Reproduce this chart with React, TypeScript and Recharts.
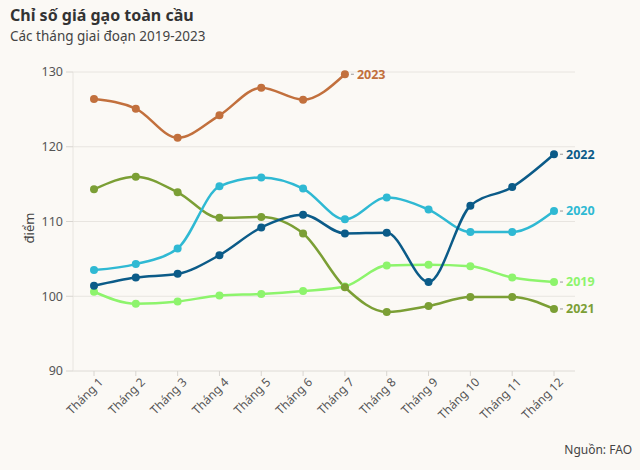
import { LineChart, Line, XAxis, YAxis, CartesianGrid } from "recharts";

// dữ liệu đọc từ biểu đồ FAO
const months = [
  "Tháng 1", "Tháng 2", "Tháng 3", "Tháng 4", "Tháng 5", "Tháng 6",
  "Tháng 7", "Tháng 8", "Tháng 9", "Tháng 10", "Tháng 11", "Tháng 12",
];
const y2019 = [100.6, 99.0, 99.3, 100.1, 100.3, 100.7, 101.3, 104.1, 104.2, 104.0, 102.5, 101.9];
const y2020 = [103.5, 104.3, 106.4, 114.7, 115.9, 114.4, 110.3, 113.2, 111.6, 108.6, 108.6, 111.4];
const y2021 = [114.3, 116.0, 113.9, 110.5, 110.6, 108.4, 101.2, 97.9, 98.7, 99.9, 99.9, 98.3];
const y2022 = [101.4, 102.5, 103.0, 105.5, 109.2, 110.9, 108.4, 108.5, 101.9, 112.1, 114.6, 119.0];
const y2023 = [126.4, 125.1, 121.2, 124.2, 127.9, 126.3, 129.7];
const yTicks = [90, 100, 110, 120, 130];

const series = [
  { key: "y2019", name: "2019", values: y2019, color: "#8df46c" },
  { key: "y2021", name: "2021", values: y2021, color: "#7b9f35" },
  { key: "y2020", name: "2020", values: y2020, color: "#2fb9d3" },
  { key: "y2022", name: "2022", values: y2022, color: "#0b5b88" },
  { key: "y2023", name: "2023", values: y2023, color: "#c2703d" },
];

const data = months.map((m, i) => {
  const row: Record<string, any> = { month: m };
  series.forEach((s) => {
    row[s.key] = i < s.values.length ? s.values[i] : null;
  });
  return row;
});

const FONT = "'Noto Sans', sans-serif";

const MonthTick = (props: any) => {
  const { x, y, payload } = props;
  return (
    <g transform={`translate(${x + 7},${y + 2})`}>
      <text
        x={0}
        y={0}
        dy="0.35em"
        textAnchor="end"
        transform="rotate(-45)"
        fill="#555"
        fontSize={12}
        fontFamily={FONT}
      >
        {payload.value}
      </text>
    </g>
  );
};

const endLabel = (name: string, color: string, lastIndex: number) => (props: any) => {
  const { x, y, index } = props;
  if (index !== lastIndex) return null;
  return (
    <g>
      <line x1={x + 6} x2={x + 9} y1={y} y2={y} stroke="#999" strokeWidth={1} />
      <text
        x={x + 12}
        y={y}
        dy="0.35em"
        fill={color}
        fontSize={12.5}
        fontWeight={700}
        fontFamily={FONT}
      >
        {name}
      </text>
    </g>
  );
};

export default function App() {
  return (
    <div
      style={{
        position: "absolute",
        left: 0,
        top: 0,
        width: 640,
        height: 470,
        background: "#fbf9f5",
        fontFamily: FONT,
        overflow: "hidden",
      }}
    >
      <div
        style={{
          position: "absolute",
          left: 10,
          top: 4,
          fontSize: 16,
          fontWeight: 700,
          color: "#333",
          whiteSpace: "nowrap",
        }}
      >
        Chỉ số giá gạo toàn cầu
      </div>
      <div
        style={{
          position: "absolute",
          left: 10,
          top: 27,
          fontSize: 13.5,
          color: "#444",
          whiteSpace: "nowrap",
        }}
      >
        Các tháng giai đoạn 2019-2023
      </div>
      <div
        style={{
          position: "absolute",
          right: 8,
          top: 441,
          fontSize: 12,
          color: "#444",
        }}
      >
        Nguồn: FAO
      </div>
      <div style={{ position: "absolute", left: 0, top: 0 }}>
        <LineChart
          width={640}
          height={470}
          data={data}
          margin={{ top: 72, right: 65, bottom: 0, left: 0 }}
        >
          <CartesianGrid vertical={false} stroke="#e8e5e0" />
          <XAxis
            dataKey="month"
            interval={0}
            height={99}
            padding={{ left: 21, right: 21 }}
            axisLine={{ stroke: "#e8e5e0" }}
            tickLine={{ stroke: "#d8d5d0" }}
            tickSize={5}
            tick={<MonthTick />}
          />
          <YAxis
            width={73}
            domain={[90, 130]}
            ticks={yTicks}
            interval={0}
            axisLine={{ stroke: "#e8e5e0" }}
            tickLine={{ stroke: "#d8d5d0" }}
            tickSize={7}
            tickMargin={3}
            tick={{ fill: "#555", fontSize: 12.5, fontFamily: FONT }}
            label={() => (
              <text
                x={29}
                y={228}
                transform="rotate(-90 29 228)"
                textAnchor="middle"
                dominantBaseline="central"
                fill="#444"
                fontSize={13}
                fontFamily={FONT}
              >
                điểm
              </text>
            )}
          />
          {series.map((s) => (
            <Line
              key={s.key}
              dataKey={s.key}
              name={s.name}
              type="monotone"
              stroke={s.color}
              strokeWidth={2.5}
              dot={{ r: 4, fill: s.color, stroke: "none" }}
              activeDot={false}
              connectNulls={false}
              isAnimationActive={false}
              label={endLabel(s.name, s.color, s.values.length - 1)}
            />
          ))}
        </LineChart>
      </div>
    </div>
  );
}
